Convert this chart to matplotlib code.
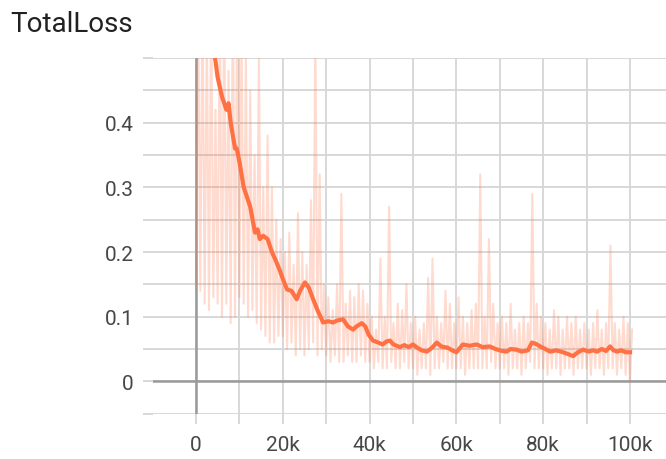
import numpy as np
import matplotlib.pyplot as plt

# raw loss envelope, one hi/lo pair per 1k steps (0..100k)
raw_hi = [0.60, 0.60, 0.55, 0.60, 0.42, 0.60, 0.60, 0.48, 0.60, 0.60,
          0.55, 0.50, 0.45, 0.35, 0.50, 0.30, 0.38, 0.30, 0.25, 0.22,
          0.20, 0.23, 0.18, 0.26, 0.20, 0.18, 0.28, 0.55, 0.32, 0.15,
          0.13, 0.11, 0.15, 0.29, 0.12, 0.14, 0.13, 0.15, 0.14, 0.12,
          0.10, 0.08, 0.19, 0.10, 0.27, 0.09, 0.12, 0.11, 0.15, 0.09,
          0.10, 0.08, 0.09, 0.16, 0.19, 0.10, 0.09, 0.14, 0.12, 0.09,
          0.13, 0.10, 0.09, 0.11, 0.12, 0.32, 0.10, 0.22, 0.12, 0.09,
          0.10, 0.09, 0.12, 0.08, 0.09, 0.10, 0.09, 0.29, 0.12, 0.10,
          0.09, 0.08, 0.11, 0.10, 0.08, 0.10, 0.09, 0.10, 0.08, 0.09,
          0.08, 0.09, 0.11, 0.08, 0.09, 0.21, 0.09, 0.08, 0.10, 0.09, 0.08]
raw_lo = [0.15, 0.14, 0.12, 0.11, 0.13, 0.12, 0.10, 0.12, 0.09, 0.10,
          0.13, 0.12, 0.10, 0.11, 0.09, 0.08, 0.07, 0.06, 0.06, 0.07,
          0.07, 0.05, 0.06, 0.04, 0.05, 0.04, 0.05, 0.06, 0.04, 0.05,
          0.04, 0.03, 0.04, 0.03, 0.03, 0.04, 0.03, 0.03, 0.04, 0.03,
          0.03, 0.02, 0.03, 0.02, 0.02, 0.03, 0.02, 0.02, 0.03, 0.02,
          0.02, 0.01, 0.02, 0.02, 0.01, 0.02, 0.02, 0.03, 0.02, 0.02,
          0.02, 0.02, 0.01, 0.02, 0.02, 0.02, 0.02, 0.02, 0.03, 0.02,
          0.02, 0.02, 0.01, 0.02, 0.02, 0.01, 0.02, 0.03, 0.02, 0.02,
          0.02, 0.01, 0.02, 0.02, 0.01, 0.02, 0.02, 0.01, 0.02, 0.02,
          0.02, 0.01, 0.02, 0.02, 0.01, 0.02, 0.02, 0.01, 0.02, 0.01, 0.00]

# smoothed curve (step in k, value)
smooth_steps = [0, 2, 4, 5, 6, 7, 7.5, 8, 9, 9.4, 10, 11, 12, 12.5, 13.6, 14.2, 14.7,
                15.5, 16.5, 17.5, 18.5, 19.4, 20.2, 21, 22, 23.2, 24, 25.1, 26, 27,
                28, 29.3, 30.5, 31.6, 32.5, 33.9, 35, 36.2, 37, 38.2, 39, 39.8, 40.8,
                42, 43, 44, 44.7, 45.5, 47, 48, 49, 50, 51, 52, 53.2, 54.4, 55.5, 56.5,
                58, 59, 60, 61.5, 63, 64.7, 66, 67.7, 69, 70.5, 71.6, 72.5, 73.9, 75,
                76.5, 77.4, 78.3, 79.3, 80.5, 81.6, 83, 84.6, 85.8, 86.9, 88, 89.2,
                90.5, 91.5, 92.4, 93.5, 94.5, 95.4, 96.2, 97, 98, 99, 100]
smooth_vals = [0.95, 0.75, 0.52, 0.47, 0.44, 0.42, 0.43, 0.40, 0.36, 0.36, 0.34, 0.30,
               0.28, 0.27, 0.23, 0.235, 0.22, 0.225, 0.22, 0.20, 0.185, 0.17, 0.155,
               0.142, 0.14, 0.127, 0.14, 0.153, 0.145, 0.127, 0.11, 0.091, 0.093,
               0.091, 0.094, 0.096, 0.085, 0.080, 0.085, 0.090, 0.085, 0.072, 0.063,
               0.060, 0.057, 0.062, 0.063, 0.057, 0.053, 0.056, 0.053, 0.057, 0.052,
               0.048, 0.046, 0.052, 0.060, 0.054, 0.052, 0.048, 0.045, 0.057, 0.055,
               0.057, 0.053, 0.054, 0.050, 0.047, 0.046, 0.050, 0.049, 0.046, 0.048,
               0.060, 0.058, 0.054, 0.050, 0.046, 0.048, 0.045, 0.042, 0.039, 0.045,
               0.049, 0.046, 0.048, 0.046, 0.050, 0.047, 0.054, 0.048, 0.046, 0.048,
               0.045, 0.045]

x_labels = ['0', '20k', '40k', '60k', '80k', '100k']
y_labels = ['0', '0.1', '0.2', '0.3', '0.4']

plt.rcParams['font.family'] = ['Roboto', 'DejaVu Sans']

fig = plt.figure(figsize=(6.66, 4.6), dpi=100)
ax = fig.add_axes([153 / 666, 1 - 415 / 460, 1 - 153 / 666, (415 - 59) / 460])

# interleave lo/hi to draw the noisy raw trace
steps = np.arange(len(raw_hi))
raw_x = np.column_stack([steps, steps + 0.5]).ravel() * 1000
raw_y = np.column_stack([raw_lo, raw_hi]).ravel()
ax.plot(raw_x, raw_y, color='#ff7043', alpha=0.25, lw=1.5, zorder=2)
ax.plot(np.array(smooth_steps) * 1000, smooth_vals, color='#ff7043', lw=3, zorder=3)

ax.set_xticks(np.arange(-10000, 110001, 10000), minor=True)
ax.set_yticks(np.arange(-0.05, 0.51, 0.05), minor=True)
ax.set_xticks(np.arange(0, 100001, 20000))
ax.set_xticklabels(x_labels)
ax.set_yticks(np.arange(0, 0.41, 0.1))
ax.set_yticklabels(y_labels)

# limits after ticks, set_xticks would widen them
ax.set_xlim(-9900, 108300)
ax.set_ylim(-0.0505, 0.5)

ax.grid(True, which='both', color='#d6d6d6', lw=1.3, zorder=0)
ax.axhline(0, color='#9a9a9a', lw=1.8, zorder=1)
ax.axvline(0, color='#9a9a9a', lw=1.8, zorder=1)
ax.set_axisbelow(True)

for s in ax.spines.values():
    s.set_visible(False)
ax.tick_params(which='both', length=7, width=1.3, color='#d6d6d6', labelsize=15,
               labelcolor='#474747')
ax.tick_params(axis='x', which='major', pad=8)
ax.tick_params(axis='y', which='major', pad=7)

fig.text(10 / 666, 1 - 11 / 460, 'TotalLoss', fontsize=20, color='#212121', va='top', ha='left')

fig.savefig('out.png', dpi=100)
